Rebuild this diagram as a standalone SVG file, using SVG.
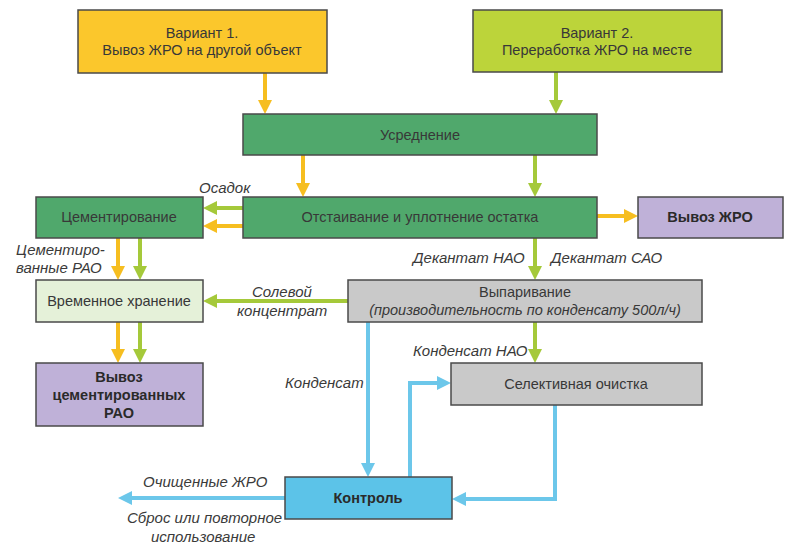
<svg xmlns="http://www.w3.org/2000/svg" width="799" height="547" viewBox="0 0 799 547">
<style>
.box{stroke:#4a4a4a;stroke-width:1.5}
.t{font-family:"Liberation Sans",Arial,sans-serif;font-size:14.5px;fill:#383838;text-anchor:middle}
.b{font-weight:bold;fill:#2a2a2a}
.lbl{font-family:"Liberation Sans",Arial,sans-serif;font-size:15px;font-style:italic;fill:#3a3a3a}
.y{stroke:#F6BE20;stroke-width:4;fill:none}
.g{stroke:#A5C93A;stroke-width:4;fill:none}
.c{stroke:#6CC7EA;stroke-width:4;fill:none}
</style>
<defs>
<marker id="ay" markerUnits="userSpaceOnUse" markerWidth="14" markerHeight="14" refX="1" refY="7" orient="auto"><path d="M0,0 L14,7 L0,14 z" fill="#F6BE20"/></marker>
<marker id="ag" markerUnits="userSpaceOnUse" markerWidth="14" markerHeight="14" refX="1" refY="7" orient="auto"><path d="M0,0 L14,7 L0,14 z" fill="#A5C93A"/></marker>
<marker id="ac" markerUnits="userSpaceOnUse" markerWidth="14" markerHeight="14" refX="1" refY="7" orient="auto"><path d="M0,0 L14,7 L0,14 z" fill="#6CC7EA"/></marker>
</defs>
<rect width="799" height="547" fill="#ffffff"/>

<g id="connectors">
<path class="y" d="M265,73 V101" marker-end="url(#ay)"/>
<path class="g" d="M556,72 V101" marker-end="url(#ag)"/>
<path class="y" d="M303,155 V184" marker-end="url(#ay)"/>
<path class="g" d="M535,155 V184" marker-end="url(#ag)"/>
<path class="g" d="M243,208 H216" marker-end="url(#ag)"/>
<path class="y" d="M243,226 H216" marker-end="url(#ay)"/>
<path class="y" d="M597,216 H625" marker-end="url(#ay)"/>
<path class="y" d="M118,238 V267" marker-end="url(#ay)"/>
<path class="g" d="M140,238 V267" marker-end="url(#ag)"/>
<path class="g" d="M535,238 V267" marker-end="url(#ag)"/>
<path class="g" d="M348,301 H216" marker-end="url(#ag)"/>
<path class="y" d="M118,322 V350" marker-end="url(#ay)"/>
<path class="g" d="M140,322 V350" marker-end="url(#ag)"/>
<path class="g" d="M535,322 V350" marker-end="url(#ag)"/>
<path class="c" d="M368,322 V464" marker-end="url(#ac)"/>
<path class="c" d="M410,477 V383 H438" marker-end="url(#ac)"/>
<path class="c" d="M555,405 V499 H465" marker-end="url(#ac)"/>
<path class="c" d="M285,498 H131" marker-end="url(#ac)"/>
</g>

<g id="labels">
<text class="lbl" x="199" y="193">Осадок</text>
<text class="lbl" x="16" y="255">Цементиро-</text>
<text class="lbl" x="16" y="273">ванные РАО</text>
<text class="lbl" x="252" y="297">Солевой</text>
<text class="lbl" x="237" y="316">концентрат</text>
<text class="lbl" x="413" y="263">Декантат НАО</text>
<text class="lbl" x="551" y="263">Декантат САО</text>
<text class="lbl" x="413" y="356">Конденсат НАО</text>
<text class="lbl" x="285" y="388">Конденсат</text>
<text class="lbl" x="143" y="487">Очищенные ЖРО</text>
<text class="lbl" x="127" y="523">Сброс или повторное</text>
<text class="lbl" x="151" y="542">использование</text>
</g>

<g id="n-var1">
<rect class="box" x="78" y="10" width="249" height="63" fill="#FBC72C"/>
<text class="t" x="202" y="38">Вариант 1.</text>
<text class="t" x="202" y="55">Вывоз ЖРО на другой объект</text>
</g>
<g id="n-var2">
<rect class="box" x="473" y="10" width="249" height="62" fill="#BCD43A"/>
<text class="t" x="597" y="38">Вариант 2.</text>
<text class="t" x="597" y="55">Переработка ЖРО на месте</text>
</g>
<g id="n-usred">
<rect class="box" x="243" y="114" width="354" height="41" fill="#50A86C"/>
<text class="t" x="420" y="140">Усреднение</text>
</g>
<g id="n-otst">
<rect class="box" x="243" y="197" width="354" height="41" fill="#50A86C"/>
<text class="t" x="420" y="222">Отстаивание и уплотнение остатка</text>
</g>
<g id="n-cem">
<rect class="box" x="36" y="197" width="167" height="41" fill="#50A86C"/>
<text class="t" x="119" y="222">Цементирование</text>
</g>
<g id="n-vyvoz">
<rect class="box" x="638" y="197" width="145" height="41" fill="#BFB1D8"/>
<text class="t b" x="710" y="222">Вывоз ЖРО</text>
</g>
<g id="n-hran">
<rect class="box" x="36" y="280" width="167" height="42" fill="#E5F1D9"/>
<text class="t" x="119" y="306">Временное хранение</text>
</g>
<g id="n-vypar">
<rect class="box" x="348" y="280" width="354" height="42" fill="#C9C9C9"/>
<text class="t" x="525" y="297">Выпаривание</text>
<text class="t" x="525" y="315" font-style="italic">(производительность по конденсату 500л/ч)</text>
</g>
<g id="n-vyvozcem">
<rect class="box" x="36" y="363" width="167" height="63" fill="#BFB1D8"/>
<text class="t b" x="119" y="382">Вывоз</text>
<text class="t b" x="119" y="400">цементированных</text>
<text class="t b" x="119" y="418">РАО</text>
</g>
<g id="n-sel">
<rect class="box" x="451" y="363" width="251" height="42" fill="#C9C9C9"/>
<text class="t" x="576" y="389">Селективная очистка</text>
</g>
<g id="n-kontrol">
<rect class="box" x="285" y="477" width="167" height="42" fill="#5CC3E8"/>
<text class="t b" x="368" y="503">Контроль</text>
</g>
</svg>
